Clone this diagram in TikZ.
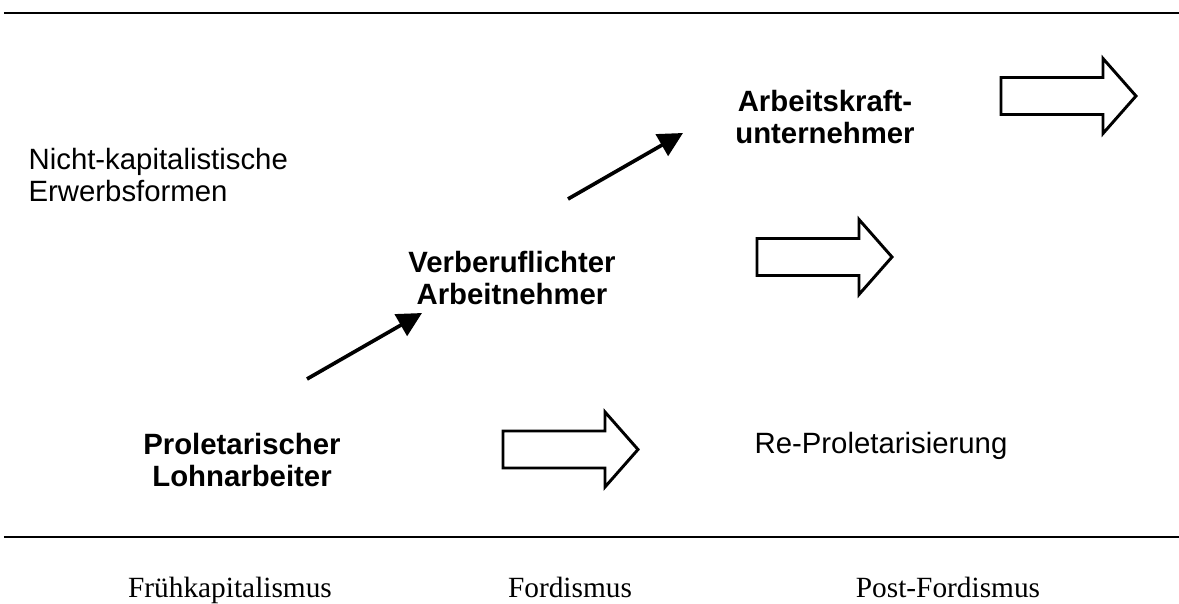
\documentclass[tikz,border=0pt]{standalone}
\usepackage{fontspec}
\setmainfont{Liberation Serif}
\setsansfont{Liberation Sans}
\usetikzlibrary{arrows.meta}

% hollow block arrow: shaft left end, middle height
\newcommand{\hollowarrow}[2]{%
    \draw[blockline] (#1,#2) ++ (0,-18.5) -- ++ (102,0) -- ++ (0,-19) -- ++ (33,37.5) -- ++ (-33,37.5) -- ++ (0,-19) -- ++ (-102,0) -- cycle;}

\tikzset{
    rule/.style={line width=0.8pt},
    blockline/.style={line width=1.2pt, line join=miter},
    risearrow/.style={line width=1.5pt, -{Triangle[length=10pt,width=10pt]}},
    phase/.style={font=\fontsize{12}{14}\selectfont, anchor=base},
    form/.style={font=\sffamily\fontsize{12}{12.8}\selectfont, align=center},
    formbold/.style={font=\sffamily\bfseries\fontsize{12}{12.8}\selectfont, align=center}
}

\begin{document}
\begin{tikzpicture}[x=0.409pt, y=-0.409pt]
        \useasboundingbox (0,0) rectangle (1179,604);

        \coordinate (topL) at (4,13);
        \coordinate (topR) at (1179,13);
        \coordinate (botL) at (4,537);
        \coordinate (botR) at (1179,537);
        \draw[rule] (topL) -- (topR);
        \draw[rule] (botL) -- (botR);

        \node[form, align=left, anchor=north west] (nichtkap) at (20,140) {Nicht-kapitalistische\\Erwerbsformen};

        \node[formbold] (akunt) at (825,117) {Arbeitskraft-\\unternehmer};
        \node[formbold] (verberuf) at (512,278) {Verberuflichter\\Arbeitnehmer};
        \node[formbold] (proletar) at (242,460) {Proletarischer\\Lohnarbeiter};
        \node[form] (reprolet) at (881,446) {Re-Proletarisierung};

        \coordinate (rise1s) at (307,379);
        \coordinate (rise1e) at (422,313);
        \coordinate (rise2s) at (568,199);
        \coordinate (rise2e) at (683,133);
        \draw[risearrow] (rise1s) -- (rise1e);
        \draw[risearrow] (rise2s) -- (rise2e);

        \hollowarrow{503}{449.5}
        \hollowarrow{757}{257}
        \hollowarrow{1001}{96}

        \node[phase] (fruehkap) at (230,598) {Frühkapitalismus};
        \node[phase] (fordism) at (570,598) {Fordismus};
        \node[phase] (postford) at (948,598) {Post-Fordismus};
    \end{tikzpicture}
\end{document}
